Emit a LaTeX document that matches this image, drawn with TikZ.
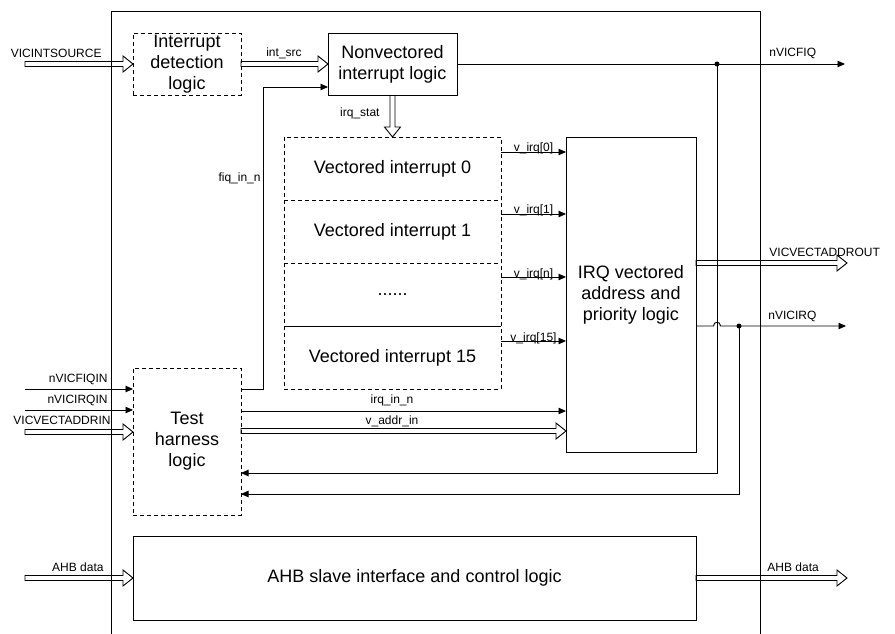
\documentclass[tikz,border=0pt]{standalone}
\usepackage{fontspec}
\setmainfont{Liberation Sans}
\usetikzlibrary{arrows.meta,calc}
\newcommand\bigf{\fontsize{18bp}{21bp}\selectfont}
\newcommand\smf{\fontsize{12bp}{14bp}\selectfont}
\begin{document}
\begin{tikzpicture}[x=1bp,y=-1bp,line width=0.9bp,
  box/.style={draw, inner sep=0pt, outer sep=0pt, align=center, font=\bigf},
  dbox/.style={box, dash pattern=on 4bp off 3bp},
  row/.style={inner sep=0pt, outer sep=0pt, font=\bigf, minimum width=217bp, minimum height=63bp},
  lbl/.style={font=\smf, inner sep=0pt},
  arr/.style={-{Triangle[length=7.5bp,width=6.5bp]}},
  hollowR/.style={to path={let \p1=(\tikztostart), \p2=(\tikztotarget) in
     (\x1,\y1+2.5bp) -- (\x2-10bp,\y1+2.5bp) -- (\x2-10bp,\y1+8bp) -- (\x2,\y1)
     -- (\x2-10bp,\y1-8bp) -- (\x2-10bp,\y1-2.5bp) -- (\x1,\y1-2.5bp) -- cycle}},
  hollowD/.style={to path={let \p1=(\tikztostart), \p2=(\tikztotarget) in
     (\x1-2.5bp,\y1) -- (\x1-2.5bp,\y2+10bp) -- (\x1-8bp,\y2+10bp) -- (\x1,\y2)
     -- (\x1+8bp,\y2+10bp) -- (\x1+2.5bp,\y2+10bp) -- (\x1+2.5bp,\y1)}}
]
\useasboundingbox (0,0) rectangle (895,634);

% outer frame
\draw (111,634) -- (111,11) -- (760,11) -- (760,634);

% blocks
\node[dbox, minimum width=108bp, minimum height=62bp] (det) at (187,64) {Interrupt\\detection\\logic};
\node[box, minimum width=129bp, minimum height=62bp] (nv) at (392.5,64) {Nonvectored\\interrupt logic};
\node[row] (vi0) at (392.5,168.5) {Vectored interrupt 0};
\node[row] (vi1) at (392.5,231.5) {Vectored interrupt 1};
\node[row] (vin) at (392.5,294.5) {......};
\node[row] (vi15) at (392.5,357.5) {Vectored interrupt 15};
\draw[dash pattern=on 4bp off 3bp] (vi0.north west) rectangle (vi15.south east);
\draw[dash pattern=on 4bp off 3bp] (vi0.south west) -- (vi0.south east);
\draw[dash pattern=on 4bp off 3bp] (vi1.south west) -- (vi1.south east);
\draw (vin.south west) -- (vin.south east);
\node[box, minimum width=130bp, minimum height=315bp] (irq) at (631,294.5) {IRQ vectored\\address and\\priority logic};
\node[dbox, minimum width=108bp, minimum height=147bp] (th) at (187,441.5) {Test\\harness\\logic};
\node[box, minimum width=563bp, minimum height=84bp] (ahb) at (414.5,578) {AHB slave interface and control logic};

% helper coordinates
\coordinate (inINT) at (25,64);
\coordinate (inFIQ) at (25,389);
\coordinate (inIRQ) at (25,410);
\coordinate (inVA) at (25,432);
\coordinate (inAHB) at (25,578);
\coordinate (oFIQ) at (845,64);
\coordinate (oVA) at (847,263);
\coordinate (oIRQ) at (846,326);
\coordinate (oAHB) at (847,578);
\coordinate (dF) at (717,64);
\coordinate (dI) at (739,326);
\coordinate (rF) at (0,473);
\coordinate (rI) at (0,494);
\coordinate (r87) at (0,87);
\coordinate (fq) at (263,389);
\coordinate (rIn) at (0,411);
\coordinate (rVa) at (0,431);

% inputs
\draw[hollowR] (inINT) to (det.west);
\node[lbl, anchor=base east] (lINT) at (102,57.5) {VICINTSOURCE};
\draw[arr] (inFIQ) -- (inFIQ -| th.west);
\node[lbl, anchor=base east] (lFIQin) at (108,382) {nVICFIQIN};
\draw[arr] (inIRQ) -- (inIRQ -| th.west);
\node[lbl, anchor=base east] (lIRQin) at (108,403) {nVICIRQIN};
\draw[hollowR] (inVA) to (inVA -| th.west);
\node[lbl, anchor=base east] (lVAin) at (111,424) {VICVECTADDRIN};
\draw[hollowR] (inAHB) to (ahb.west);
\node[lbl, anchor=base east] (lAHBin) at (104,571) {AHB data};

% internal
\draw[hollowR] (det.east) to (nv.west);
\node[lbl, anchor=base] (lsrc) at (284,57) {int\_src};
\draw[hollowD] (nv.south) to (nv.south |- vi0.north);
\node[lbl, anchor=base east] (lstat) at (380,117) {irq\_stat};
\draw[arr] (th.east |- fq) -- (fq) |- (nv.west |- r87);
\node[lbl, anchor=base east] (lfiq) at (261,182) {fiq\_in\_n};

\draw[arr] ([yshift=-15bp]vi0.north east) coordinate (a0) -- (a0 -| irq.west) node[lbl, midway, anchor=base] (l0) {v\_irq[0]};
\draw[arr] ([yshift=-14bp]vi1.north east) coordinate (a1) -- (a1 -| irq.west) node[lbl, midway, anchor=base] (l1) {v\_irq[1]};
\draw[arr] ([yshift=-14bp]vin.north east) coordinate (a2) -- (a2 -| irq.west) node[lbl, midway, anchor=base] (l2) {v\_irq[n]};
\draw[arr] ([yshift=-15bp]vi15.north east) coordinate (a3) -- (a3 -| irq.west) node[lbl, midway, anchor=base] (l3) {v\_irq[15]};

\draw[arr] (th.east |- rIn) -- (irq.west |- rIn);
\node[lbl, anchor=base] (lirqin) at (392,403) {irq\_in\_n};
\draw[hollowR] (th.east |- rVa) to (irq.west |- rVa);
\node[lbl, anchor=base] (lvaddr) at (392,424) {v\_addr\_in};

% outputs
\draw[arr] (nv.east) -- (oFIQ);
\node[lbl, anchor=base west] (lFIQ) at (769,57) {nVICFIQ};
\fill (dF) circle (2.5bp);
\draw[arr] (dF) |- (th.east |- rF);

\draw[hollowR] (irq.east |- oVA) to (oVA);
\node[lbl, anchor=base west] (lVA) at (769,257) {VICVECTADDROUT};

\coordinate (br) at (dF |- oIRQ);
\draw[arr] (irq.east |- oIRQ) -- ([xshift=-3.5bp]br) .. controls ([xshift=-3.5bp,yshift=5bp]br) and ([xshift=3.5bp,yshift=5bp]br) .. ([xshift=3.5bp]br) -- (oIRQ);
\node[lbl, anchor=base west] (lIRQ) at (768,319) {nVICIRQ};
\fill (dI) circle (2.5bp);
\draw[arr] (dI) |- (th.east |- rI);

\draw[hollowR] (ahb.east) to (oAHB);
\node[lbl, anchor=base west] (lAHB) at (767,571) {AHB data};
\end{tikzpicture}
\end{document}
